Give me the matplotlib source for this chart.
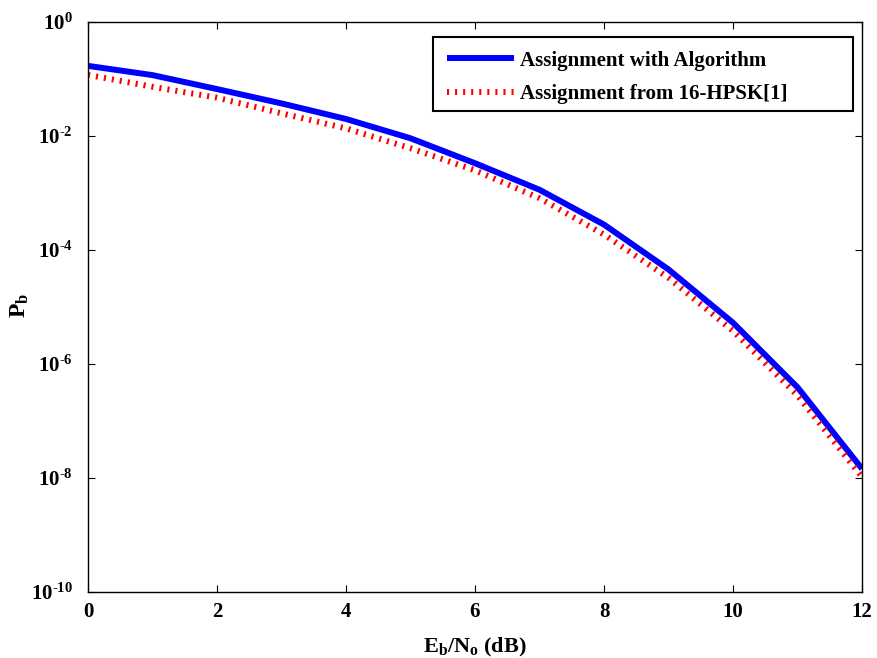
import matplotlib
matplotlib.use("Agg")
import matplotlib.pyplot as plt
from matplotlib.ticker import FixedLocator, NullLocator
from matplotlib.patches import Rectangle

ebno_db = [0, 1, 2, 3, 4, 5, 6, 7, 8, 9, 10, 11, 12]
pb_algorithm = [0.170, 0.117, 0.0666, 0.0373, 0.0199, 0.00912, 0.00333,
                1.14e-3, 2.79e-4, 4.56e-5, 5.3e-6, 3.9e-7, 1.45e-8]
pb_hpsk = [0.118, 0.073, 0.047, 0.025, 0.0136, 0.0061, 0.0025,
           8.1e-4, 1.87e-4, 3.25e-5, 3.8e-6, 2.8e-7, 1.04e-8]
series_labels = ["Assignment with Algorithm", "Assignment from 16-HPSK[1]"]
y_tick_exps = [0, -2, -4, -6, -8, -10]
x_ticks = [0, 2, 4, 6, 8, 10, 12]

plt.rcParams['font.family'] = ['Liberation Serif', 'DejaVu Serif']
plt.rcParams['font.weight'] = 'bold'
plt.rcParams['axes.unicode_minus'] = False
plt.rcParams['mathtext.fontset'] = 'custom'
plt.rcParams['mathtext.rm'] = 'Liberation Serif:bold'
plt.rcParams['mathtext.bf'] = 'Liberation Serif:bold'
plt.rcParams['mathtext.it'] = 'Liberation Serif:bold'

W, H = 877, 658
fig = plt.figure(figsize=(W/100, H/100), dpi=100)
ax = fig.add_axes([88/W, 66/H, 774/W, 570/H])

ax.semilogy(ebno_db, pb_algorithm, color='#0000ff', lw=4.3,
            solid_capstyle='butt', label=series_labels[0])
ax.semilogy(ebno_db, pb_hpsk, color='#ff0000', lw=4.3,
            linestyle=(0, (0.35, 1.0)), dash_capstyle='butt',
            label=series_labels[1])

ax.set_xlim(0, 12)
ax.set_ylim(1e-10, 1e0)
ax.xaxis.set_major_locator(FixedLocator(x_ticks))
ax.set_xticklabels([str(t) for t in x_ticks])
ax.yaxis.set_major_locator(FixedLocator([10.0**e for e in y_tick_exps]))
ax.yaxis.set_minor_locator(NullLocator())
ax.set_yticklabels([r'$\mathbf{10^{\text{%d}}}$' % e for e in y_tick_exps])

ax.tick_params(which='both', direction='in', top=True, right=True,
               length=5, width=0.8, labelsize=15)
ax.tick_params(axis='y', pad=11)
ax.tick_params(axis='x', pad=7)
for lab in ax.get_xticklabels() + ax.get_yticklabels():
    lab.set_fontweight('bold')
for s in ax.spines.values():
    s.set_linewidth(1.0)

ax.set_xlabel(r'E$_\mathbf{b}$/N$_\mathbf{o}$ (dB)', fontsize=16,
              fontweight='bold', labelpad=10)
ax.set_ylabel(r'P$_\mathbf{b}$', fontsize=17, fontweight='bold',
              va='center')
ax.yaxis.set_label_coords((20 - 88) / 774, (592 - 305) / 570)

# legend frame (MATLAB-style, wider than the text)
x0, x1, y0, y1 = 433, 853, 37, 111
ax.add_patch(Rectangle(((x0 - 88) / 774, (592 - y1) / 570),
                       (x1 - x0) / 774, (y1 - y0) / 570,
                       transform=ax.transAxes, facecolor='white',
                       edgecolor='black', lw=1.5, zorder=5))
leg = ax.legend(loc='upper left',
                bbox_to_anchor=((x0 - 88) / 774, (592 - y0) / 570),
                borderaxespad=0, frameon=False, handlelength=3.25,
                handletextpad=0.3, borderpad=0.65, labelspacing=0.65,
                prop={'weight': 'bold', 'size': 15})
leg.set_zorder(6)

fig.savefig('out.png', dpi=100)
